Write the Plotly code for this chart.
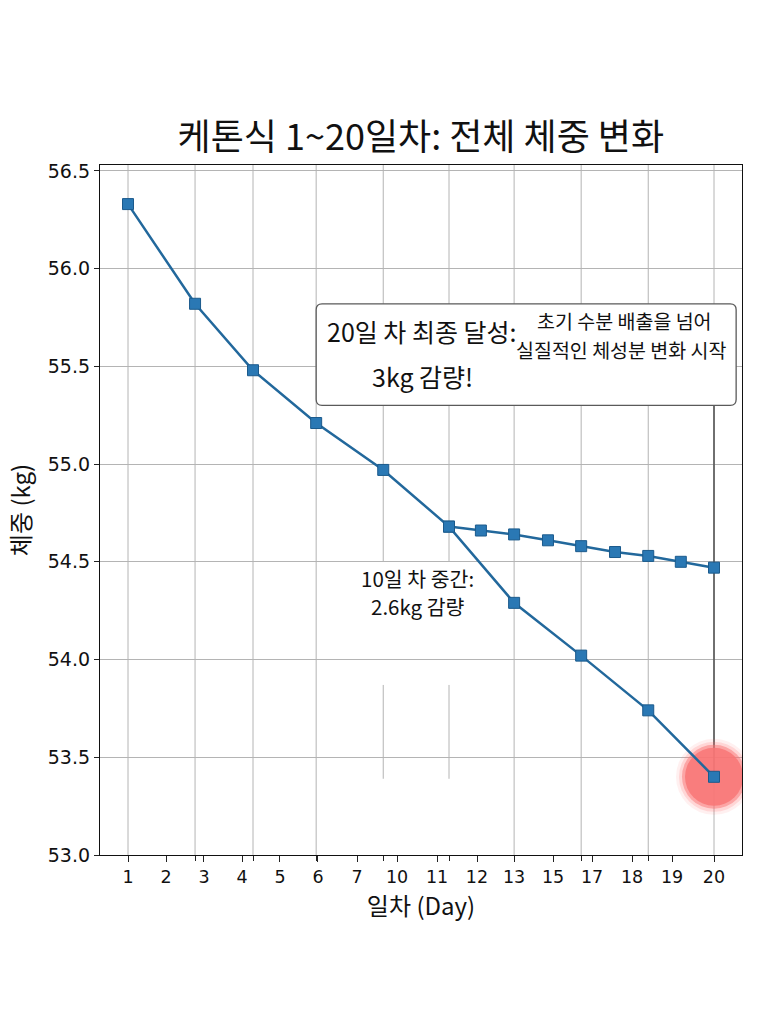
import plotly.graph_objects as go

# ---------------- data ----------------
# horizontal positions (in grid units)
main_pos = [0, 1.03, 1.92, 2.89, 3.92, 4.93, 5.93, 6.96, 7.99, 9.0]
main_weight = [56.33, 55.82, 55.48, 55.21, 54.97, 54.68, 54.29, 54.02, 53.74, 53.40]

upper_pos = [4.93, 5.42, 5.93, 6.45, 6.96, 7.48, 7.99, 8.49, 9.0]
upper_weight = [54.68, 54.66, 54.64, 54.61, 54.58, 54.55, 54.53, 54.50, 54.47]

tick_labels = ["1", "2", "3", "4", "5", "6", "7", "10", "11", "12", "13", "15", "17", "18", "19", "20"]
tick_pos = [0, 0.584, 1.167, 1.751, 2.334, 2.918, 3.517, 4.132, 4.746, 5.36,
            5.929, 6.528, 7.127, 7.741, 8.356, 9.0]
y_ticks = [53.0, 53.5, 54.0, 54.5, 55.0, 55.5, 56.0, 56.5]

title_text = "케톤식 1~20일차: 전체 체중 변화"
x_title = "일차 (Day)"
y_title = "체중 (kg)"

# ---------------- style ----------------
KR = "Noto Sans CJK KR"
TICKF = "DejaVu Sans"
LINE_C = "#22689c"
MARK_C = "#2a78b4"
MARK_E = "#1b5a8c"
GRID_C = "#b4b4b4"

X_RANGE = [-0.43, 9.43]
Y_RANGE = [53.0, 56.53]

fig = go.Figure()

# red glow around final point
last_x, last_y = main_pos[-1], main_weight[-1]
for size, col in [(76, "rgba(255,110,110,0.10)"), (70, "rgba(255,110,110,0.20)"),
                  (64, "rgba(250,115,115,0.50)"), (58, "rgba(248,118,118,0.85)")]:
    fig.add_trace(go.Scatter(x=[last_x], y=[last_y], mode="markers",
                             marker=dict(size=size, color=col, line=dict(width=0)),
                             hoverinfo="skip", showlegend=False))

# upper branch
fig.add_trace(go.Scatter(x=upper_pos, y=upper_weight, mode="lines+markers",
                         line=dict(color=LINE_C, width=2.5),
                         marker=dict(symbol="square", size=11, color=MARK_C,
                                     line=dict(color=MARK_E, width=1)),
                         showlegend=False))
# main series
fig.add_trace(go.Scatter(x=main_pos, y=main_weight, mode="lines+markers",
                         line=dict(color=LINE_C, width=2.5),
                         marker=dict(symbol="square", size=11, color=MARK_C,
                                     line=dict(color=MARK_E, width=1)),
                         showlegend=False))
# invisible trace for secondary x axis (labels)
fig.add_trace(go.Scatter(x=[X_RANGE[0]], y=[Y_RANGE[0]], xaxis="x2", mode="markers",
                         marker=dict(opacity=0), hoverinfo="skip", showlegend=False))

shapes = []
# vertical gridlines
gap_pos = {main_pos[4], main_pos[5]}
for gx in main_pos:
    if gx in gap_pos:
        segs = [(54.5, Y_RANGE[1]), (53.39, 53.87)]
    else:
        segs = [(Y_RANGE[0], Y_RANGE[1])]
    for y0, y1 in segs:
        shapes.append(dict(type="line", xref="x", yref="y", x0=gx, x1=gx, y0=y0, y1=y1,
                           line=dict(color=GRID_C, width=1), layer="between"))

# connector from box to final point
box_x0, box_x1, box_y0, box_y1 = 2.89, 9.34, 55.30, 55.82
shapes.append(dict(type="line", xref="x", yref="y", x0=last_x, x1=last_x, y0=last_y, y1=box_y0,
                   line=dict(color="#555555", width=1.6), layer="between"))

# rounded annotation box
rx, ry = 0.09, 0.03
path = (f"M {box_x0+rx},{box_y1} L {box_x1-rx},{box_y1} Q {box_x1},{box_y1} {box_x1},{box_y1-ry} "
        f"L {box_x1},{box_y0+ry} Q {box_x1},{box_y0} {box_x1-rx},{box_y0} "
        f"L {box_x0+rx},{box_y0} Q {box_x0},{box_y0} {box_x0},{box_y0+ry} "
        f"L {box_x0},{box_y1-ry} Q {box_x0},{box_y1} {box_x0+rx},{box_y1} Z")
shapes.append(dict(type="path", xref="x", yref="y", path=path,
                   line=dict(color="#5a5a5a", width=1.3), fillcolor="white", layer="above"))

annotations = [
    dict(x=4.52, y=55.68, xref="x", yref="y", text="20일 차 최종 달성:", showarrow=False,
         font=dict(family=KR, size=25, color="#111")),
    dict(x=4.52, y=55.45, xref="x", yref="y", text="3kg 감량!", showarrow=False,
         font=dict(family=KR, size=25, color="#111")),
    dict(x=7.62, y=55.735, xref="x", yref="y", text="초기 수분 배출을 넘어", showarrow=False,
         font=dict(family=KR, size=19.5, color="#111")),
    dict(x=7.58, y=55.587, xref="x", yref="y", text="실질적인 체성분 변화 시작", showarrow=False,
         font=dict(family=KR, size=19.5, color="#111")),
    dict(x=4.45, y=54.415, xref="x", yref="y", text="10일 차 중간:", showarrow=False,
         font=dict(family=KR, size=20.5, color="#111")),
    dict(x=4.45, y=54.275, xref="x", yref="y", text="2.6kg 감량", showarrow=False,
         font=dict(family=KR, size=20.5, color="#111")),
]

fig.update_layout(
    width=768, height=1024,
    paper_bgcolor="white", plot_bgcolor="white",
    margin=dict(l=100, r=26, t=165, b=169),
    title=dict(text=title_text, x=0.548, xanchor="center", y=0.866, yanchor="middle",
               font=dict(family=KR, size=36, color="#111")),
    shapes=shapes, annotations=annotations,
    xaxis=dict(range=X_RANGE, showgrid=False, zeroline=False,
               tickmode="array", tickvals=main_pos, showticklabels=False,
               ticks="outside", ticklen=5, tickcolor="#222", tickwidth=1,
               showline=True, linecolor="#111", linewidth=1.3, mirror=True),
    xaxis2=dict(range=X_RANGE, overlaying="x", anchor="y", side="bottom",
                showgrid=False, zeroline=False,
                tickmode="array", tickvals=tick_pos,
                ticktext=tick_labels, ticks="outside", ticklen=6, tickcolor="#222", tickwidth=1,
                tickfont=dict(family=TICKF, size=17.5, color="#111"),
                title=dict(text=x_title, font=dict(family=KR, size=24, color="#111"), standoff=6),
                showline=False),
    yaxis=dict(range=Y_RANGE, tickmode="array", tickvals=y_ticks, tickformat=".1f",
               showgrid=True, gridcolor=GRID_C, gridwidth=1, zeroline=False,
               ticks="outside", ticklen=5, tickcolor="#222", tickwidth=1,
               tickfont=dict(family=TICKF, size=19, color="#111"),
               title=dict(text=y_title, font=dict(family=KR, size=24, color="#111"), standoff=10),
               showline=True, linecolor="#111", linewidth=1.3, mirror=True),
)

fig.write_html("out.html")
